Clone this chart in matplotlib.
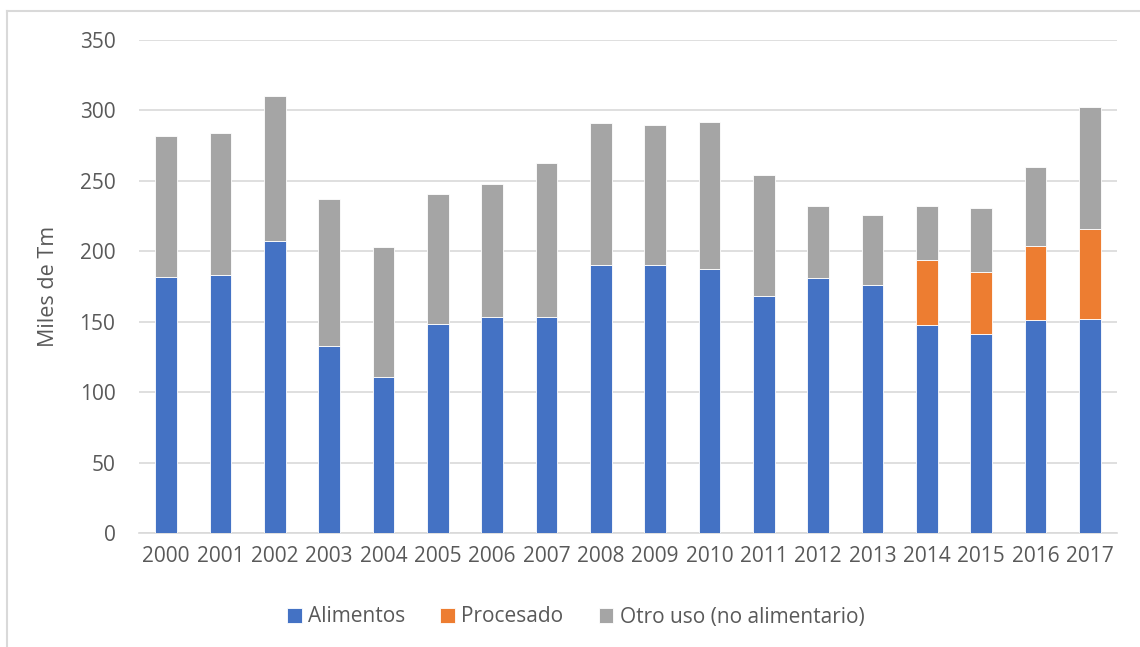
import matplotlib.pyplot as plt
import numpy as np
from matplotlib.lines import Line2D

years = [str(y) for y in range(2000, 2018)]
alimentos = [182, 183, 207.5, 132.5, 111, 148.5, 153.5, 153.5, 190.5, 190, 187.5, 168.5,
             181, 176, 148, 141, 151, 152]
procesado = [0, 0, 0, 0, 0, 0, 0, 0, 0, 0, 0, 0, 0, 0, 45.5, 44, 52.5, 64]
otro_uso = [99.5, 101, 102.5, 104.5, 92, 92.5, 94, 109.5, 100.5, 100, 104.5, 85.5,
            51, 50, 38.5, 46, 56.5, 86.5]

labels = ["Alimentos", "Procesado", "Otro uso (no alimentario)"]
colors = ["#4472C4", "#ED7D31", "#A5A5A5"]
text_color = "#595959"

plt.rcParams["font.family"] = ["Open Sans", "DejaVu Sans"]

fig = plt.figure(figsize=(11.4, 6.47), dpi=100)
ax = fig.add_axes([139 / 1140, 1 - 533 / 647, (1117 - 139) / 1140, (533 - 40) / 647])

x = np.arange(len(years))
bottom = np.zeros(len(years))
for values, label, color in zip([alimentos, procesado, otro_uso], labels, colors):
    vals = np.array(values, dtype=float)
    ax.bar(x, vals, width=0.4, bottom=bottom, color=color, label=label,
           edgecolor="white", linewidth=0.6, zorder=3)
    bottom += vals

ax.set_xlim(-0.5, len(years) - 0.5)
ax.set_ylim(0, 350)
ax.set_yticks(range(0, 351, 50))
ax.set_xticks(x)
ax.set_xticklabels(years)
ax.yaxis.grid(True, color="#D9D9D9", linewidth=1.2, zorder=0)
ax.tick_params(axis="both", length=0, labelsize=15, colors=text_color)
ax.tick_params(axis="y", pad=17)
ax.tick_params(axis="x", pad=9)
for side in ["top", "right", "left"]:
    ax.spines[side].set_visible(False)
ax.spines["bottom"].set_color("#D9D9D9")
ax.spines["bottom"].set_linewidth(1.2)
ax.set_ylabel("Miles de Tm", fontsize=15.5, color=text_color, labelpad=15)

fig.legend(loc="center", bbox_to_anchor=(0.505, 1 - 617 / 647), ncol=3, frameon=False,
           fontsize=15, labelcolor=text_color, handlelength=0.7, handleheight=0.7,
           handletextpad=0.3, columnspacing=1.7)

# chart frame (only left and top edges are visible in the crop)
fig.add_artist(Line2D([7 / 1140, 7 / 1140], [0, 1 - 11 / 647], color="#D9D9D9", linewidth=1.5))
fig.add_artist(Line2D([7 / 1140, 1], [1 - 11 / 647, 1 - 11 / 647], color="#D9D9D9", linewidth=1.5))

fig.savefig("out.png", dpi=100)
